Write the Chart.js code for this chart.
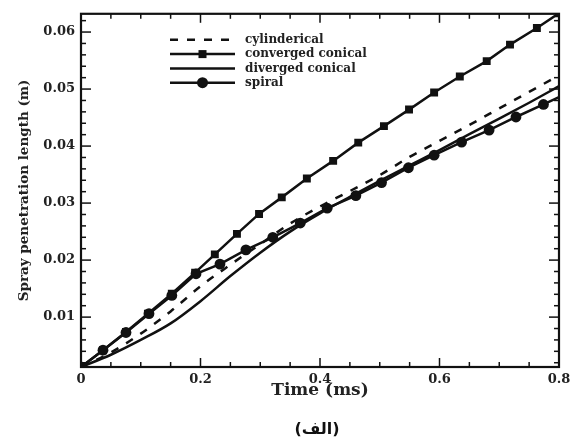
<!DOCTYPE html>
<html>
<head>
<meta charset="utf-8">
<script src="https://cdn.jsdelivr.net/npm/chart.js@4/dist/chart.umd.min.js"></script>
<style>
html,body{margin:0;padding:0;background:#fff;}
#wrap{width:576px;height:448px;}
</style>
</head>
<body>
<div id="wrap"><canvas id="c" width="576" height="448"></canvas></div>
<script>
// ---- data ----
const seriesLabels = ['cylinderical', 'converged conical', 'diverged conical', 'spiral'];

const cylTime   = [0, 0.05, 0.1, 0.15, 0.2, 0.25, 0.3, 0.35, 0.4, 0.45, 0.5, 0.55, 0.6, 0.65, 0.7, 0.75, 0.8];
const cylLength = [0.00125, 0.0038, 0.0071, 0.0110, 0.0154, 0.0192, 0.0228, 0.0264, 0.0294, 0.0321, 0.0349, 0.0381, 0.0409, 0.0437, 0.0466, 0.0495, 0.0524];

const convTime   = [0, 0.0368, 0.0753, 0.112, 0.152, 0.191, 0.224, 0.261, 0.298, 0.336, 0.378, 0.422, 0.464, 0.507, 0.549, 0.591, 0.634, 0.679, 0.718, 0.763, 0.8];
const convLength = [0.00125, 0.0042, 0.0074, 0.0106, 0.0141, 0.0178, 0.0210, 0.0246, 0.0281, 0.0310, 0.0343, 0.0374, 0.0406, 0.0435, 0.0464, 0.0494, 0.0522, 0.0549, 0.0578, 0.0607, 0.0633];

const divTime   = [0, 0.05, 0.1, 0.15, 0.2, 0.25, 0.3, 0.35, 0.4, 0.45, 0.5, 0.55, 0.6, 0.65, 0.7, 0.75, 0.8];
const divLength = [0.00125, 0.0034, 0.0060, 0.0089, 0.0128, 0.0172, 0.0213, 0.0250, 0.0282, 0.0311, 0.0339, 0.0366, 0.0393, 0.0421, 0.0448, 0.0476, 0.0505];

const spiTime   = [0, 0.0368, 0.0753, 0.1138, 0.152, 0.1925, 0.2326, 0.276, 0.321, 0.367, 0.412, 0.460, 0.503, 0.548, 0.591, 0.637, 0.683, 0.728, 0.774, 0.8];
const spiLength = [0.00125, 0.0042, 0.0073, 0.0106, 0.0138, 0.0176, 0.0193, 0.0218, 0.0240, 0.0265, 0.0291, 0.0313, 0.0336, 0.0362, 0.0384, 0.0407, 0.0428, 0.0451, 0.0473, 0.0486];

const timeTicks   = [0, 0.2, 0.4, 0.6, 0.8];
const lengthTicks = [0.01, 0.02, 0.03, 0.04, 0.05, 0.06];
const xRange = [0, 0.8];
const yRange = [0.00125, 0.0632];
const xTitle = 'Time (ms)';
const yTitle = 'Spray penetration length (m)';
const caption = '(الف)';

// ---- helpers ----
const pts = (t, v) => t.map((x, i) => ({x: x, y: v[i]}));
const minorX = []; for (let k = 1; k < 16; k++) { if (k % 4) minorX.push(k * 0.05); }
const minorY = []; for (let k = 1; k <= 31; k++) { if (k % 5) minorY.push(k * 0.002); }

const INK = '#111';
const serif = 'DejaVu Serif';

const frameTicks = {
  id: 'frameTicks',
  afterDatasetsDraw(chart) {
    const {ctx, chartArea: a, scales: {x, y}} = chart;
    ctx.save();
    ctx.strokeStyle = INK;
    ctx.lineWidth = 1.5;
    const tick = (vals, len) => {
      vals.forEach(v => {
        const px = x.getPixelForValue(v);
        ctx.beginPath(); ctx.moveTo(px, a.bottom); ctx.lineTo(px, a.bottom - len); ctx.stroke();
        ctx.beginPath(); ctx.moveTo(px, a.top); ctx.lineTo(px, a.top + len); ctx.stroke();
      });
    };
    const tickY = (vals, len) => {
      vals.forEach(v => {
        const py = y.getPixelForValue(v);
        ctx.beginPath(); ctx.moveTo(a.left, py); ctx.lineTo(a.left + len, py); ctx.stroke();
        ctx.beginPath(); ctx.moveTo(a.right, py); ctx.lineTo(a.right - len, py); ctx.stroke();
      });
    };
    tick(minorX, 5); tick(timeTicks, 9);
    tickY(minorY, 5); tickY(lengthTicks, 10);
    ctx.lineWidth = 2.2;
    ctx.strokeRect(a.left, a.top, a.right - a.left, a.bottom - a.top);

    // legend
    ctx.font = 'bold 12px "' + serif + '"';
    ctx.textBaseline = 'middle';
    ctx.fillStyle = '#222';
    chart.data.datasets.forEach((ds, i) => {
      const ly = a.top + 26 + i * 14.3;
      const x0 = a.left + 89, x1 = a.left + 154;
      ctx.save();
      ctx.strokeStyle = ds.borderColor;
      ctx.lineWidth = ds.borderWidth;
      ctx.setLineDash(ds.borderDash || []);
      ctx.beginPath(); ctx.moveTo(x0, ly); ctx.lineTo(x1, ly); ctx.stroke();
      ctx.setLineDash([]);
      ctx.fillStyle = INK;
      const mx = (x0 + x1) / 2;
      if (ds.pointStyle === 'rect') { ctx.fillRect(mx - 4, ly - 4, 8, 8); }
      else if (ds.pointStyle === 'circle' && ds.legendMarker) { ctx.beginPath(); ctx.arc(mx, ly, 5.5, 0, Math.PI * 2); ctx.fill(); }
      ctx.restore();
      ctx.fillText(ds.label, a.left + 164, ly);
    });

    // caption under the x-axis title, centred on the plot
    ctx.font = 'bold 16px "DejaVu Sans"';
    ctx.textAlign = 'center';
    ctx.fillStyle = '#111';
    ctx.fillText(caption, (a.left + a.right) / 2 - 3, 430);
    ctx.restore();
  }
};

new Chart(document.getElementById('c'), {
  type: 'line',
  data: {
    datasets: [
      { label: seriesLabels[0], data: pts(cylTime, cylLength), borderColor: INK, borderWidth: 2.5,
        borderDash: [8, 9], pointRadius: 0, cubicInterpolationMode: 'monotone', pointStyle: 'line' },
      { label: seriesLabels[1], data: pts(convTime, convLength), borderColor: INK, borderWidth: 2.5,
        pointStyle: 'rect', pointRadius: 5.6, pointBackgroundColor: INK, pointBorderColor: INK, pointBorderWidth: 0, tension: 0 },
      { label: seriesLabels[2], data: pts(divTime, divLength), borderColor: INK, borderWidth: 2.5,
        pointRadius: 0, cubicInterpolationMode: 'monotone', pointStyle: 'line' },
      { label: seriesLabels[3], data: pts(spiTime, spiLength), borderColor: INK, borderWidth: 2.5, legendMarker: true,
        pointStyle: 'circle', pointRadius: c => (c.dataIndex === spiTime.length - 1 ? 0 : 5.4),
        pointBackgroundColor: INK, pointBorderColor: INK, pointBorderWidth: 0, tension: 0 }
    ]
  },
  options: {
    responsive: false,
    animation: false,
    devicePixelRatio: 1,
    layout: { padding: { top: 10, right: 17, left: 0, bottom: 0 } },
    plugins: {
      legend: { display: false },
      tooltip: { enabled: false },
      title: { display: false }
    },
    scales: {
      x: {
        type: 'linear', min: xRange[0], max: xRange[1],
        afterBuildTicks: s => { s.ticks = timeTicks.map(v => ({value: v})); },
        afterFit: s => { s.height = 81; },
        grid: { display: false, drawTicks: false },
        border: { display: false },
        ticks: { padding: 5, color: '#222', font: { family: serif, size: 13, weight: 'bold' },
          callback: v => (v === 0 ? '0' : v.toFixed(1)), maxRotation: 0 },
        title: { display: true, text: xTitle, color: '#222', font: { family: serif, size: 17, weight: 'bold' },
          padding: { top: 0, bottom: 47.5 } }
      },
      y: {
        type: 'linear', min: yRange[0], max: yRange[1],
        afterBuildTicks: s => { s.ticks = lengthTicks.map(v => ({value: v})); },
        afterFit: s => { s.width = 81; },
        grid: { display: false, drawTicks: false },
        border: { display: false },
        ticks: { padding: 6, color: '#222', font: { family: serif, size: 13, weight: 'bold' },
          callback: v => v.toFixed(2) },
        title: { display: true, text: yTitle, color: '#222', font: { family: serif, size: 13.5, weight: 'bold' },
          padding: { top: 16, bottom: 0 } }
      }
    }
  },
  plugins: [frameTicks]
});
</script>
</body>
</html>
